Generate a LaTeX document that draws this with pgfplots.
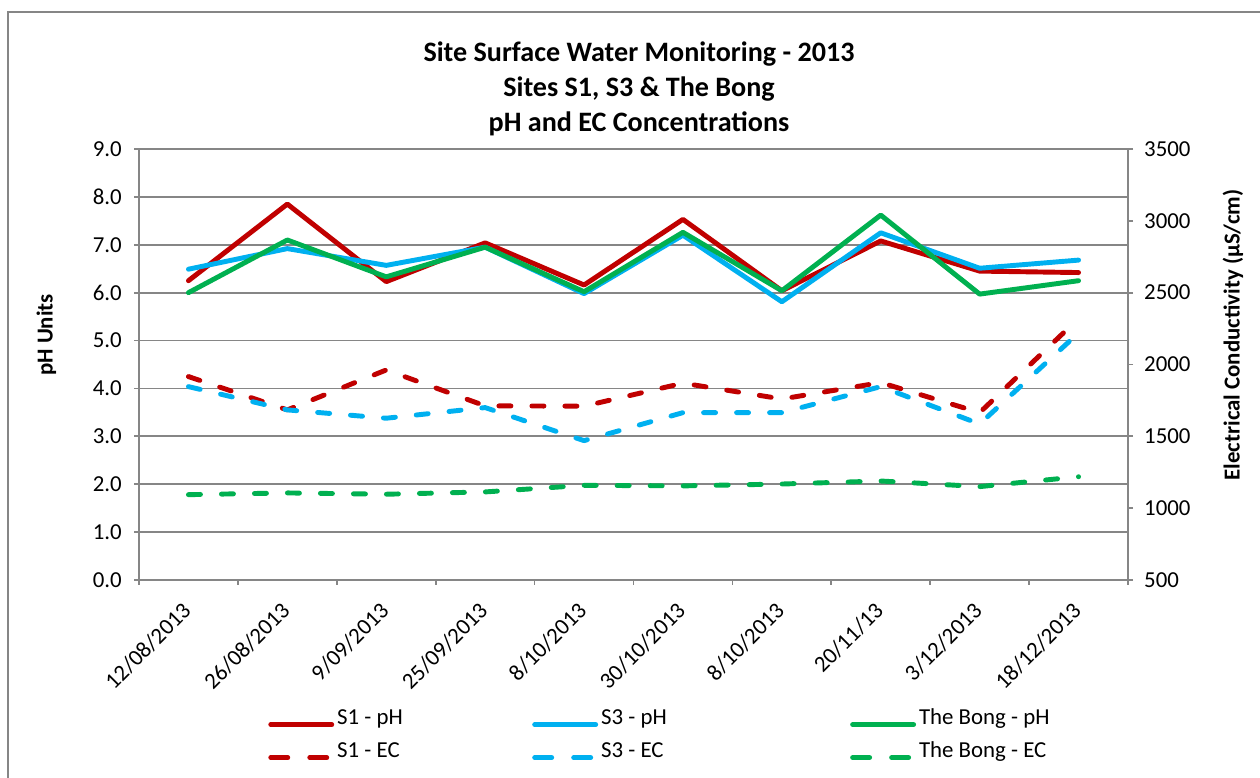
\documentclass[border=0pt]{standalone}
\usepackage{fontspec}
\setmainfont{Carlito}
\usepackage{pgfplots}
\usepackage{pgfplotstable}
\pgfplotsset{compat=1.18}

\definecolor{sred}{RGB}{192,0,0}
\definecolor{sblue}{RGB}{0,176,240}
\definecolor{sgreen}{RGB}{0,176,80}
\definecolor{gridgray}{RGB}{134,134,134}

% pH (left axis) and EC in uS/cm (right axis)
\pgfplotstableread{
idx S1pH S3pH BpH S1EC S3EC BEC
0 6.25 6.49 6.00 1916 1846 1094
1 7.85 6.92 7.10 1684 1684 1106
2 6.23 6.57 6.33 1962 1626 1097
3 7.04 6.95 6.95 1712 1700 1113
4 6.16 5.98 6.02 1710 1470 1159
5 7.53 7.20 7.26 1870 1665 1155
6 6.04 5.81 6.04 1760 1665 1168
7 7.08 7.25 7.62 1874 1846 1189
8 6.45 6.51 5.97 1665 1586 1150
9 6.42 6.68 6.25 2320 2220 1219
}\data

\pgfplotsset{
  common/.style={
    at={(2.78cm,3.96cm)}, anchor=south west,
    scale only axis, width=19.78cm, height=8.62cm,
    xmin=-0.5, xmax=9.5,
    axis line style={gridgray, line width=1pt, -},
    tick style={gridgray, line width=1pt},
    tick align=outside, major tick length=0.1cm,
    tick label style={font=\fontsize{13}{15}\selectfont, black},
    /pgf/number format/assume math mode=true,
  },
  ln/.style={line width=2.8pt, line cap=round, line join=round},
  dsh/.style={ln, dash pattern=on 0.24cm off 0.42cm},
}

\begin{document}
\begin{tikzpicture}
\path[use as bounding box] (0,0) rectangle (25.2,15.56);
\draw[gridgray, line width=1.1pt] (0.16,0) -- (0.16,15.32) -- (25.2,15.32);

\node[anchor=base, font=\fontsize{16}{19}\selectfont\bfseries] at (12.78,14.32) {Site Surface Water Monitoring - 2013};
\node[anchor=base, font=\fontsize{16}{19}\selectfont\bfseries] at (12.78,13.62) {Sites S1, S3 \& The Bong};
\node[anchor=base, font=\fontsize{16}{19}\selectfont\bfseries] at (12.78,12.92) {pH and EC Concentrations};

\node[rotate=90, font=\fontsize{13}{15}\selectfont\bfseries] at (0.93,8.86) {pH Units};
\node[rotate=90, font=\fontsize{13}{15}\selectfont\bfseries] at (24.66,8.86) {Electrical Conductivity (µS/cm)};

\begin{axis}[common,
    ymin=0, ymax=9, ytick={0,1,...,9},
    axis x line*=bottom, axis y line*=left,
    ymajorgrids, grid style={gridgray, line width=1pt},
    yticklabel style={xshift=-0.12cm, /pgf/number format/.cd, fixed, fixed zerofill, precision=1},
    xtick={-0.5,0.5,...,9.5}, xticklabels={},
    extra x ticks={0,1,...,9},
    extra x tick labels={12/08/2013,26/08/2013,9/09/2013,25/09/2013,8/10/2013,30/10/2013,8/10/2013,20/11/13,3/12/2013,18/12/2013},
    extra x tick style={major tick length=0pt, xticklabel style={rotate=45, anchor=east, xshift=-0.28cm, yshift=-0.36cm}},
    legend columns=3,
    legend image code/.code={\draw[#1] (0.05cm,0cm) -- (1.27cm,0cm);},
    legend style={at={(axis description cs:0.1304,-0.30)}, anchor=north west,
      draw=none, fill=none, inner sep=0pt,
      font=\fontsize{13}{15}\selectfont,
      nodes={inner sep=0pt, text height=0.3cm, text depth=0.1cm, anchor=base west},
      /tikz/every odd column/.append style={column sep=0.06cm},
      /tikz/row sep=0.26cm},
  ]
  \addplot[sred, ln] table[x=idx, y=S1pH] {\data};
  \addlegendentry{\makebox[3.9cm][l]{S1 - pH}}
  \addplot[sblue, ln] table[x=idx, y=S3pH] {\data};
  \addlegendentry{\makebox[4.98cm][l]{S3 - pH}}
  \addplot[sgreen, ln] table[x=idx, y=BpH] {\data};
  \addlegendentry{The Bong - pH}
  \addlegendimage{sred, ln, dash pattern=on 0.34cm off 0.44cm}
  \addlegendentry{\makebox[3.9cm][l]{S1 - EC}}
  \addlegendimage{sblue, ln, dash pattern=on 0.34cm off 0.44cm}
  \addlegendentry{\makebox[4.98cm][l]{S3 - EC}}
  \addlegendimage{sgreen, ln, dash pattern=on 0.34cm off 0.44cm}
  \addlegendentry{The Bong - EC}
\end{axis}

\begin{axis}[common,
    ymin=500, ymax=3500, ytick={500,1000,...,3500},
    axis x line=none, axis y line*=right,
    yticklabel style={xshift=0.1cm, /pgf/number format/.cd, fixed, set thousands separator={}},
  ]
  \addplot[sred, dsh] table[x=idx, y=S1EC] {\data};
  \addplot[sblue, dsh] table[x=idx, y=S3EC] {\data};
  \addplot[sgreen, dsh] table[x=idx, y=BEC] {\data};
\end{axis}
\end{tikzpicture}
\end{document}
